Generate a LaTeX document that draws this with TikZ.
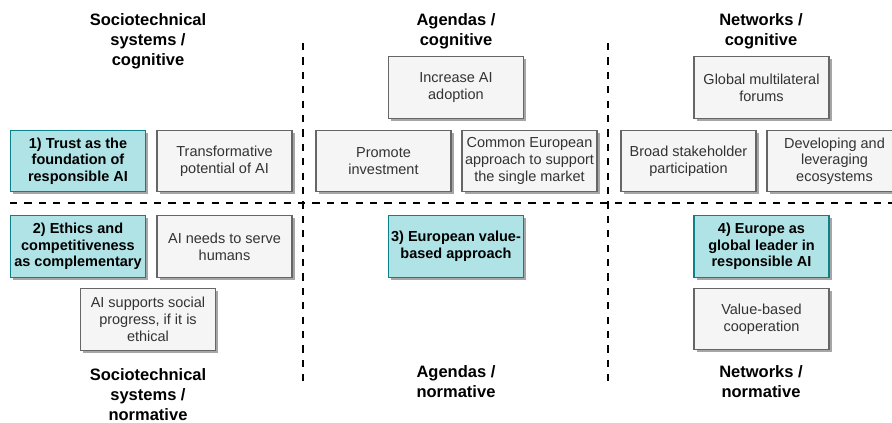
\documentclass[tikz,border=0pt]{standalone}
\usepackage{fontspec}
\setmainfont{Liberation Sans}
\usetikzlibrary{shadows}
\definecolor{tealfill}{HTML}{B0E3E6}
\definecolor{tealdraw}{HTML}{0E8088}
\definecolor{grayfill}{HTML}{F5F5F5}
\definecolor{graydraw}{HTML}{666666}
\definecolor{graytext}{HTML}{333333}
\tikzset{
  basebox/.style={rectangle, minimum width=135pt, minimum height=61.5pt, inner sep=1pt,
    align=center, line width=1.2pt,
    font=\fontsize{14.5}{16.7}\selectfont,
    drop shadow={shadow xshift=2.5pt, shadow yshift=-2.5pt, fill=black, opacity=0.35}},
  tealbox/.style={basebox, fill=tealfill, draw=tealdraw, font=\fontsize{14.5}{16.7}\selectfont\bfseries},
  graybox/.style={basebox, fill=grayfill, draw=graydraw, text=graytext},
  title/.style={align=center, inner sep=0pt, font=\fontsize{16.5}{20}\selectfont\bfseries},
  divider/.style={line width=2.4pt, dash pattern=on 7.2pt off 7.2pt}
}
\begin{document}
\begin{tikzpicture}[x=1pt,y=-1pt]
\useasboundingbox (0,0) rectangle (892,423);
% dividers
\coordinate (hl) at (10,203);
\coordinate (hr) at (895,203);
\coordinate (v1t) at (303,43);
\coordinate (v1b) at (303,388);
\coordinate (v2t) at (608,43);
\coordinate (v2b) at (608,388);
\draw[divider] (hl) -- (hr);
\draw[divider] (v1t) -- (v1b);
\draw[divider] (v2t) -- (v2b);
% titles
\node[title, anchor=north] (tst) at (148,13) {Sociotechnical\\systems /\\cognitive};
\node[title, anchor=north] (tat) at (456,13) {Agendas /\\cognitive};
\node[title, anchor=north] (tnt) at (761,13) {Networks /\\cognitive};
\node[title, anchor=north] (tsb) at (148,368) {Sociotechnical\\systems /\\normative};
\node[title, anchor=north] (tab) at (456,365) {Agendas /\\normative};
\node[title, anchor=north] (tnb) at (761,365) {Networks /\\normative};
% sociotechnical boxes
\node[tealbox] (b1) at (78,161) {1) Trust as the\\foundation of\\responsible AI};
\node[graybox] (s1) at (224.5,161) {Transformative\\potential of AI};
\node[tealbox] (b2) at (78,246.5) {2) Ethics and\\competitiveness\\as complementary};
\node[graybox] (s2) at (224.5,246.5) {AI needs to serve\\humans};
\node[graybox] (s3) at (148,319.5) {AI supports social\\progress, if it is\\ethical};
% agendas boxes
\node[graybox] (a1) at (456,87.5) {Increase AI\\adoption};
\node[graybox] (a2) at (383.5,161) {Promote\\investment};
\node[graybox] (a3) at (529.5,161) {Common European\\approach to support\\the single market};
\node[tealbox] (b3) at (456,246.5) {3) European value-\\based approach};
% networks boxes
\node[graybox] (n1) at (761.5,87.5) {Global multilateral\\forums};
\node[graybox] (n2) at (688.5,161) {Broad stakeholder\\participation};
\node[graybox] (n3) at (834.5,161) {Developing and\\leveraging\\ecosystems};
\node[tealbox] (b4) at (761.5,246.5) {4) Europe as\\global leader in\\responsible AI};
\node[graybox] (n4) at (761.5,319) {Value-based\\cooperation};
\end{tikzpicture}
\end{document}
